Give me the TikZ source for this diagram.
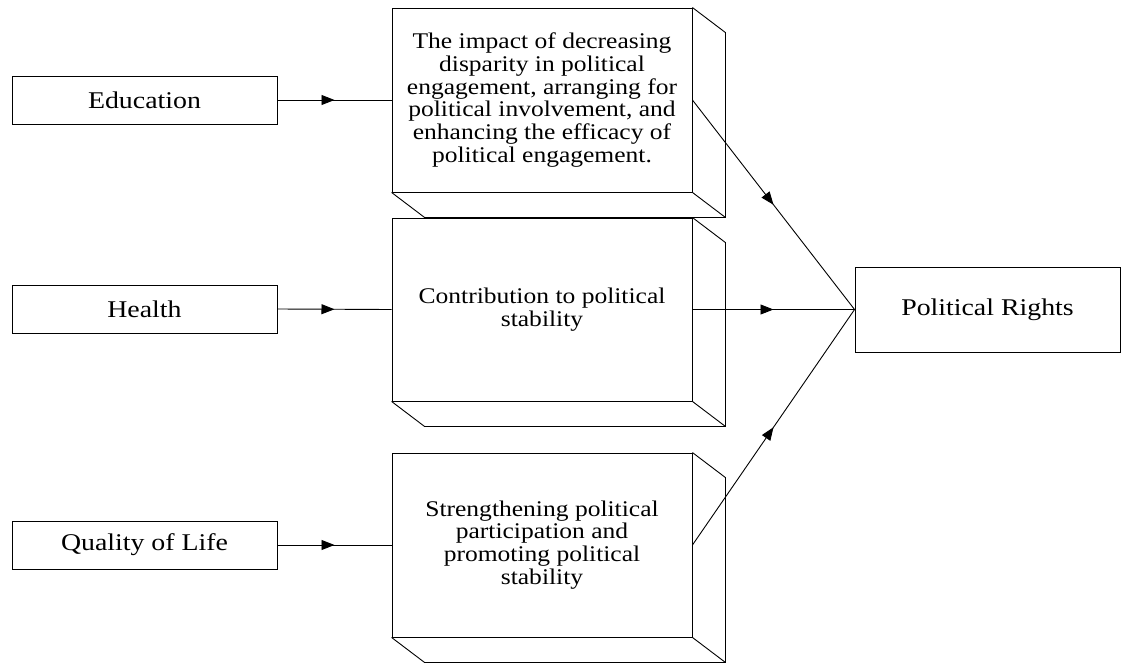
\documentclass[tikz,border=0pt]{standalone}
\usepackage{fontspec}
\setmainfont{Liberation Serif}[FakeStretch=1.14]
\newfontfamily\labfont{Liberation Serif}[FakeStretch=1.16]
\usetikzlibrary{arrows.meta,decorations.markings,calc}
\begin{document}
\begin{tikzpicture}[x=1pt,y=-1pt,
  every node/.style={font=\fontsize{22.4}{22.8}\selectfont},
  plainbox/.style={draw,line width=0.9pt,minimum width=265pt,inner sep=0pt,align=center,font=\labfont\fontsize{24}{26}\selectfont},
  frontbox/.style={draw,line width=0.9pt,minimum width=300pt,minimum height=184pt,inner sep=0pt,align=center,fill=white},
  edgeline/.style={line width=0.9pt},
  midarrow/.style={line width=0.9pt,postaction={decorate,decoration={markings,mark=at position 0.5 with {\arrow{Triangle[length=13pt,width=10pt]}}}}}
]
\useasboundingbox (0,0) rectangle (1122,664);

\node[plainbox,minimum height=48pt] (edu) at (144.5,100) {Education};
\node[plainbox,minimum height=48pt] (hea) at (144.5,309) {Health};
\node[plainbox,minimum height=48pt] (qol) at (144.5,545) {Quality of Life};
\node[plainbox,minimum height=85pt] (pr) at (987.5,309.5) {Political Rights};

\node[frontbox] (f1) at (542,100) {The impact of decreasing\\disparity in political\\engagement, arranging for\\political involvement, and\\enhancing the efficacy of\\political engagement.};
\draw[edgeline] (f1.north east) -- ++(33,25) -- ($(f1.south east)+(33,25)$) -- ($(f1.south west)+(33,25)$) -- (f1.south west);
\draw[edgeline] (f1.south east) -- ++(33,25);

\node[frontbox,minimum height=183pt] (f2) at (542,309.5) {Contribution to political\\stability};
\draw[edgeline] (f2.north east) -- ++(33,25) -- ($(f2.south east)+(33,25)$) -- ($(f2.south west)+(33,25)$) -- (f2.south west);
\draw[edgeline] (f2.south east) -- ++(33,25);

\node[frontbox] (f3) at (542,545) {Strengthening political\\participation and\\promoting political\\stability};
\draw[edgeline] (f3.north east) -- ++(33,25) -- ($(f3.south east)+(33,25)$) -- ($(f3.south west)+(33,25)$) -- (f3.south west);
\draw[edgeline] (f3.south east) -- ++(33,25);

\draw[midarrow] (edu.east) -- (f1.west);
\draw[midarrow] (hea.east) -- (f2.west);
\draw[midarrow] (qol.east) -- (f3.west);
\draw[midarrow] (f1.east) -- (pr.west);
\draw[midarrow] (f2.east) -- (pr.west);
\draw[midarrow] (f3.east) -- (pr.west);
\end{tikzpicture}
\end{document}
